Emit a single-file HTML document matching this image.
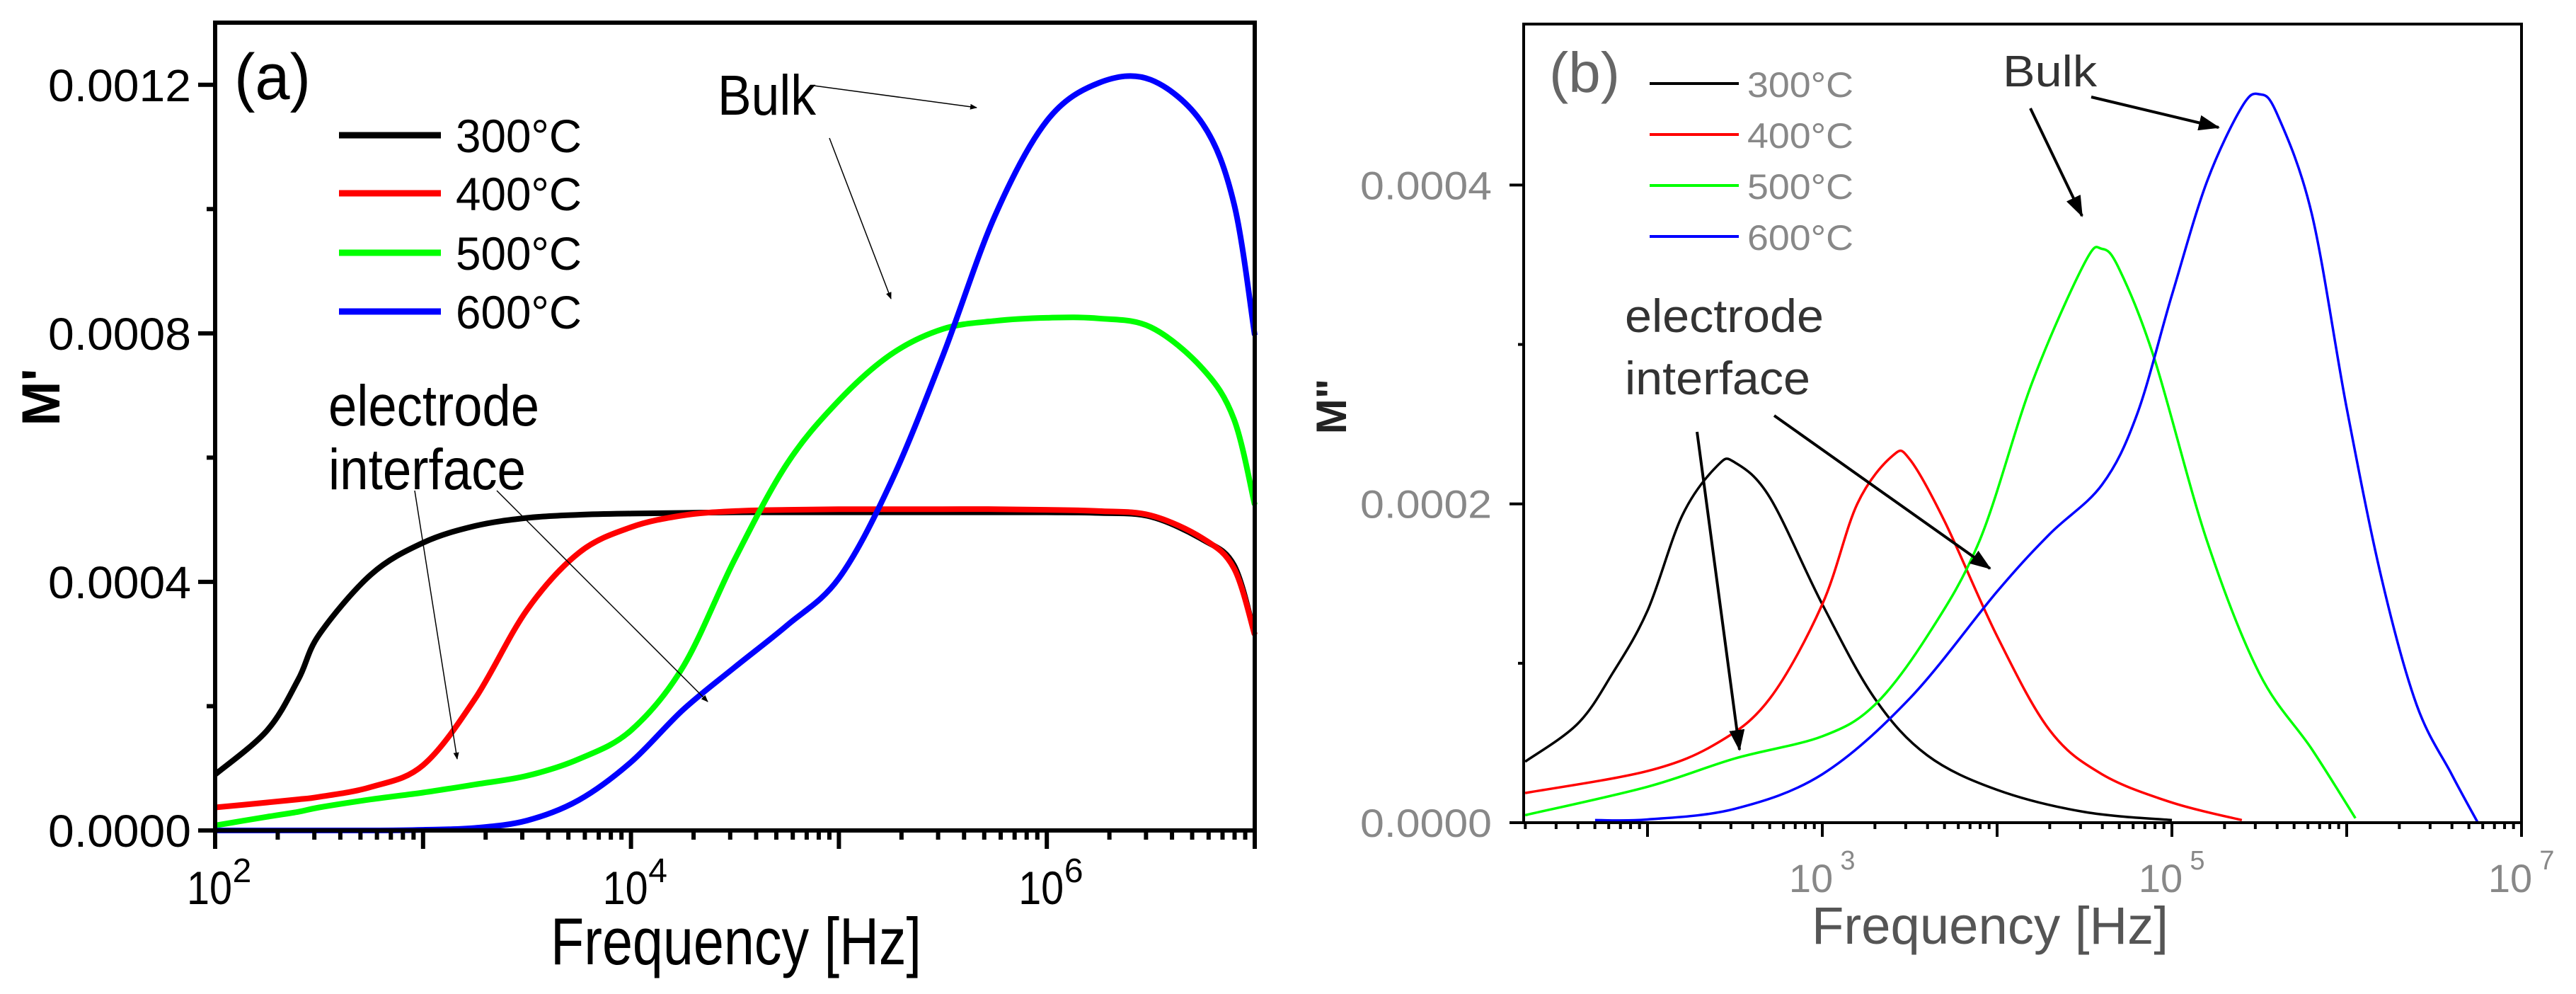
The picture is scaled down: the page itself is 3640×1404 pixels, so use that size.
<!DOCTYPE html>
<html><head><meta charset="utf-8"><style>
body{margin:0;background:#fff;}
svg{display:block;font-family:"Liberation Sans",Arial,sans-serif;}
</style></head><body>
<svg id="fig" width="3640" height="1404" viewBox="0 0 3640 1404" xmlns="http://www.w3.org/2000/svg">
<defs>
<marker id="ah" markerWidth="10" markerHeight="8" refX="9" refY="4" orient="auto" markerUnits="userSpaceOnUse" viewBox="0 0 10 8"><path d="M0,0 L10,4 L0,8 z" fill="#000"/></marker>
<marker id="ah2" markerWidth="30" markerHeight="22" refX="28" refY="11" orient="auto" markerUnits="userSpaceOnUse" viewBox="0 0 30 22"><path d="M0,0 L30,11 L0,22 z" fill="#000"/></marker>
</defs>
<g id="pa"></g>
<g id="pb"></g>
</svg>
<script>
// ---------- Panel (a) data: M' vs log10 frequency ----------
const aLog = [2,2.25,2.4,2.5,2.75,3,3.25,3.5,3.75,4,4.25,4.5,4.75,5,5.25,5.5,5.75,6,6.25,6.5,6.75,6.9,7];
const a300 = [0.00009,0.000161,0.000243,0.000315,0.000412,0.000463,0.00049,0.000503,0.000508,0.00051,0.000511,0.000512,0.000512,0.000512,0.000512,0.000512,0.000512,0.000512,0.000511,0.000505,0.000468,0.000427,0.000315];
const a400 = [0.000037,0.000045,0.00005,0.000054,0.00007,0.000105,0.000212,0.000355,0.000447,0.000488,0.000507,0.000514,0.000516,0.000517,0.000517,0.000517,0.000517,0.000516,0.000514,0.000507,0.00047,0.000422,0.000315];
const a500 = [0.000008,0.000022,0.00003,0.000037,0.00005,0.000061,0.000074,0.000088,0.000115,0.000161,0.000263,0.000437,0.00059,0.000692,0.000766,0.000807,0.00082,0.000825,0.000824,0.00081,0.000743,0.000662,0.000524];
const a600 = [0,0,0,0,0,0.000001,0.000004,0.000016,0.000049,0.00011,0.000194,0.000263,0.00033,0.000406,0.00056,0.000764,0.000989,0.001142,0.001203,0.001208,0.001137,0.001009,0.000797];
const aYTicks = ["0.0000","0.0004","0.0008","0.0012"];
const aYVals = [0,0.0004,0.0008,0.0012];
const aXExp = [2,4,6];
// ---------- Panel (b) data: M'' vs log10 frequency ----------
const b300Log = [1.3,1.6,1.8,2,2.2,2.4,2.5,2.7,3,3.3,3.6,4,4.5,5];
const b300 = [0.0000383,0.000062,0.0000937,0.000133,0.000193,0.000224,0.000226,0.000204,0.000137,0.0000779,0.0000423,0.0000206,0.0000067,0.0000016];
const b400Log = [1.3,2,2.4,2.7,3,3.2,3.4,3.5,3.7,4,4.3,4.6,5,5.4];
const b400 = [0.0000186,0.0000324,0.00005,0.0000779,0.000137,0.0002,0.00023,0.000228,0.000189,0.000117,0.0000581,0.0000304,0.0000126,0.0000016];
const b500Log = [1.3,2,2.5,3,3.3,3.6,3.9,4.2,4.5,4.6,4.7,4.9,5.2,5.5,5.8,6.05];
const b500 = [0.0000047,0.0000225,0.0000403,0.0000542,0.0000739,0.000117,0.000177,0.000276,0.000351,0.00036,0.000347,0.000291,0.000177,0.0000937,0.0000462,0.0000028];
const b600Log = [1.7,2,2.5,3,3.5,4,4.3,4.6,4.8,5,5.2,5.4,5.5,5.6,5.8,6,6.2,6.4,6.6,6.75];
const b600 = [0.0000016,0.000002,0.0000087,0.0000304,0.0000779,0.000145,0.000181,0.000212,0.000256,0.000331,0.000402,0.000449,0.000457,0.000445,0.000382,0.00026,0.000153,0.0000739,0.0000304,0];
const bYTicks = ["0.0000","0.0002","0.0004"];
const bYVals = [0,0.0002,0.0004];
const bXExp = [3,5,7];

const NS="http://www.w3.org/2000/svg";
function mk(parent,tag,attrs,text){const e=document.createElementNS(NS,tag);for(const k in attrs)e.setAttribute(k,attrs[k]);if(text!==undefined)e.textContent=text;parent.appendChild(e);return e;}
function smooth(pts){let d="M"+pts[0][0].toFixed(1)+","+pts[0][1].toFixed(1);for(let i=0;i<pts.length-1;i++){const p0=pts[i-1]||pts[i],p1=pts[i],p2=pts[i+1],p3=pts[i+2]||p2;const c1=[p1[0]+(p2[0]-p0[0])/6,p1[1]+(p2[1]-p0[1])/6],c2=[p2[0]-(p3[0]-p1[0])/6,p2[1]-(p3[1]-p1[1])/6];d+="C"+c1[0].toFixed(1)+","+c1[1].toFixed(1)+" "+c2[0].toFixed(1)+","+c2[1].toFixed(1)+" "+p2[0].toFixed(1)+","+p2[1].toFixed(1);}return d;}

// ===== Panel A =====
(function(){
const g=document.getElementById('pa');
const L=304,R=1773,T=32,B=1173;
const x=l=>L+(l-2)*(R-L)/5;
const y=v=>B-v*(B-T)/0.0013;
let e;
const ser=[[a300,"#000","series-300c"],[a400,"#f00","series-400c"],[a500,"#0f0","series-500c"],[a600,"#00f","series-600c"]];
ser.forEach(s=>{e=mk(g,"path",{d:smooth(aLog.map((l,i)=>[x(l),y(s[0][i])])),fill:"none",stroke:s[1],"stroke-width":8,"stroke-linejoin":"round"});

});
e=mk(g,"rect",{x:L,y:T,width:R-L,height:B-T,fill:"none",stroke:"#000","stroke-width":6});


for(let v=0;v<=0.0013;v+=0.0002){const yy=y(v);const major=Math.round(v*10000)%4===0;mk(g,"line",{x1:L-(major?24:12),x2:L,y1:yy,y2:yy,stroke:"#000","stroke-width":6});}
aYVals.forEach((v,i)=>{e=mk(g,"text",{x:270,y:y(v)+23,"font-size":64,"text-anchor":"end",textLength:202,lengthAdjust:"spacingAndGlyphs"},aYTicks[i]);

});
for(let d=2;d<7;d++){for(let m=1;m<10;m++){const l=d+Math.log10(m);const xx=x(l);mk(g,"line",{x1:xx,x2:xx,y1:B,y2:B+(m===1?26:13),stroke:"#000","stroke-width":6});}}
mk(g,"line",{x1:R,x2:R,y1:B,y2:B+26,stroke:"#000","stroke-width":6});
aXExp.forEach(p=>{const xx=x(p);e=mk(g,"text",{x:xx-8,y:1277,"font-size":66,"text-anchor":"middle",textLength:64,lengthAdjust:"spacingAndGlyphs"},"10");


mk(g,"text",{x:xx+38,y:1246,"font-size":48,"text-anchor":"middle"},String(p));});
e=mk(g,"text",{x:1040,y:1362,"font-size":94,"text-anchor":"middle",textLength:524,lengthAdjust:"spacingAndGlyphs"},"Frequency [Hz]");


e=mk(g,"text",{x:0,y:0,"font-size":76,"font-weight":"bold","text-anchor":"middle",transform:"translate(84,561) rotate(-90)"},"M'");


e=mk(g,"text",{x:331,y:140,"font-size":92,textLength:108,lengthAdjust:"spacingAndGlyphs"},"(a)");


const leg=[["300°C","#000",191],["400°C","#f00",273],["500°C","#0f0",357],["600°C","#00f",440]];
leg.forEach(l=>{e=mk(g,"line",{x1:479,x2:623,y1:l[2],y2:l[2],stroke:l[1],"stroke-width":9});


e=mk(g,"text",{x:644,y:l[2]+24,"font-size":66,textLength:178,lengthAdjust:"spacingAndGlyphs"},l[0]);

});
e=mk(g,"text",{x:1014,y:162,"font-size":80,textLength:139,lengthAdjust:"spacingAndGlyphs"},"Bulk");


e=mk(g,"text",{x:464,y:601,"font-size":82,textLength:298,lengthAdjust:"spacingAndGlyphs"},"electrode");


e=mk(g,"text",{x:464,y:691,"font-size":82,textLength:279,lengthAdjust:"spacingAndGlyphs"},"interface");


[[1150,121,1380,152],[1172,195,1259,422],[586,693,646,1072],[702,693,1000,991]].forEach(a=>{e=mk(g,"line",{x1:a[0],y1:a[1],x2:a[2],y2:a[3],stroke:"#000","stroke-width":1.5,"marker-end":"url(#ah)"});

});
})();

// ===== Panel B =====
(function(){
const g=document.getElementById('pb');
const L=2153,R=3563,T=34,B=1162;
const lmin=7-(R-L)/247;
const x=l=>L+(l-lmin)*247;
const y=v=>B-v*(B-T)/0.000501;
let e;
const ser=[[b300Log,b300,"#000","series-300c-b"],[b400Log,b400,"#f00","series-400c-b"],[b500Log,b500,"#0f0","series-500c-b"],[b600Log,b600,"#00f","series-600c-b"]];
ser.forEach(s=>{e=mk(g,"path",{d:smooth(s[0].map((l,i)=>[x(l),y(s[1][i])])),fill:"none",stroke:s[2],"stroke-width":3.5,"stroke-linejoin":"round"});

});
e=mk(g,"rect",{x:L,y:T,width:R-L,height:B-T,fill:"none",stroke:"#000","stroke-width":4});


for(let v=0;v<=0.00045;v+=0.0001){const yy=y(v);const major=Math.round(v*10000)%2===0;mk(g,"line",{x1:L-(major?20:8),x2:L,y1:yy,y2:yy,stroke:"#000","stroke-width":4});}
bYVals.forEach((v,i)=>{e=mk(g,"text",{x:2108,y:y(v)+20,"font-size":56,"text-anchor":"end",fill:"#888",textLength:186,lengthAdjust:"spacingAndGlyphs"},bYTicks[i]);

});
for(let d=1;d<7;d++){for(let m=1;m<10;m++){const l=d+Math.log10(m);if(l<lmin)continue;const xx=x(l);mk(g,"line",{x1:xx,x2:xx,y1:B,y2:B+(m===1?20:9),stroke:"#000","stroke-width":4});}}
mk(g,"line",{x1:R,x2:R,y1:B,y2:B+20,stroke:"#000","stroke-width":4});
bXExp.forEach(p=>{const xx=x(p);e=mk(g,"text",{x:xx-16,y:1260,"font-size":56,"text-anchor":"middle",fill:"#888"},"10");


mk(g,"text",{x:xx+36,y:1228,"font-size":38,"text-anchor":"middle",fill:"#888"},String(p));});
e=mk(g,"text",{x:2812,y:1333,"font-size":74,"text-anchor":"middle",fill:"#555",textLength:504,lengthAdjust:"spacingAndGlyphs"},"Frequency [Hz]");


e=mk(g,"text",{x:0,y:0,"font-size":60,"font-weight":"bold","text-anchor":"middle",fill:"#222",transform:"translate(1902,574) rotate(-90)"},"M\"");


e=mk(g,"text",{x:2189,y:130,"font-size":80,fill:"#666",textLength:100,lengthAdjust:"spacingAndGlyphs"},"(b)");


const leg=[["300°C","#000",118],["400°C","#f00",190],["500°C","#0f0",262],["600°C","#00f",334]];
leg.forEach(l=>{e=mk(g,"line",{x1:2331,x2:2457,y1:l[2],y2:l[2],stroke:l[1],"stroke-width":4});


e=mk(g,"text",{x:2469,y:l[2]+19,"font-size":50,fill:"#888",textLength:150,lengthAdjust:"spacingAndGlyphs"},l[0]);

});
e=mk(g,"text",{x:2830,y:122,"font-size":62,fill:"#333",textLength:133,lengthAdjust:"spacingAndGlyphs"},"Bulk");


e=mk(g,"text",{x:2296,y:469,"font-size":66,fill:"#333",textLength:281,lengthAdjust:"spacingAndGlyphs"},"electrode");


e=mk(g,"text",{x:2296,y:557,"font-size":66,fill:"#333",textLength:262,lengthAdjust:"spacingAndGlyphs"},"interface");


[[2955,137,3135,180],[2869,153,2942,305],[2398,610,2458,1059],[2507,587,2812,803]].forEach(a=>{e=mk(g,"line",{x1:a[0],y1:a[1],x2:a[2],y2:a[3],stroke:"#000","stroke-width":4,"marker-end":"url(#ah2)"});

});
})();
</script>
</body></html>
